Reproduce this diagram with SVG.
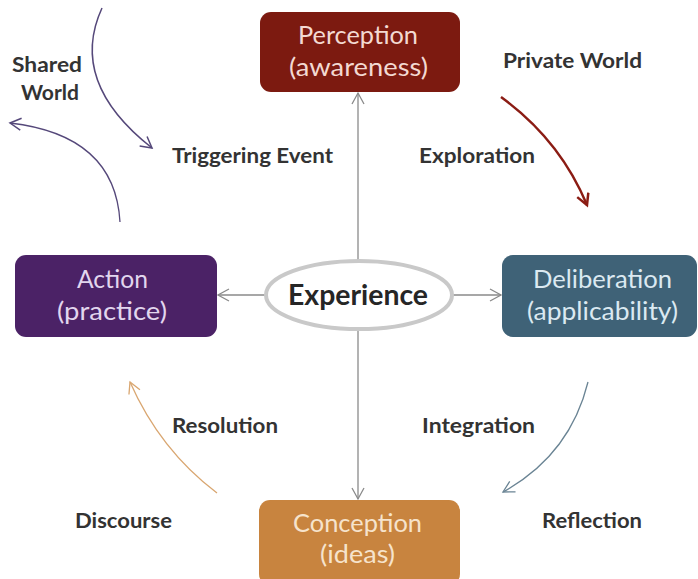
<svg xmlns="http://www.w3.org/2000/svg" width="698" height="579" viewBox="0 0 698 579">
<defs>
<style>
.lbl{font-family:Lato,"Open Sans","Liberation Sans",sans-serif;font-weight:bold;font-size:20px;fill:#333}
.bt{font-family:Lato,"Open Sans","Liberation Sans",sans-serif;font-size:25px}
.ax{stroke:#8a8a8a;stroke-width:1.3;fill:none}
</style>
<marker id="ag" markerUnits="userSpaceOnUse" markerWidth="16" markerHeight="16" refX="12" refY="7" orient="auto"><path d="M1,1 L12,7 L1,13" fill="none" stroke="#8a8a8a" stroke-width="1.3"/></marker>
<marker id="ap" markerUnits="userSpaceOnUse" markerWidth="16" markerHeight="16" refX="12" refY="7" orient="auto"><path d="M1,1 L12,7 L1,13" fill="none" stroke="#55487a" stroke-width="1.5"/></marker>
<marker id="ar" markerUnits="userSpaceOnUse" markerWidth="16" markerHeight="16" refX="12" refY="7" orient="auto"><path d="M1,1 L12,7 L1,13" fill="none" stroke="#8b1c14" stroke-width="2.5"/></marker>
<marker id="ab" markerUnits="userSpaceOnUse" markerWidth="16" markerHeight="16" refX="12" refY="7" orient="auto"><path d="M1,1 L12,7 L1,13" fill="none" stroke="#6a8494" stroke-width="1.3"/></marker>
<marker id="ao" markerUnits="userSpaceOnUse" markerWidth="16" markerHeight="16" refX="12" refY="7" orient="auto"><path d="M1,1 L12,7 L1,13" fill="none" stroke="#d9a670" stroke-width="1.3"/></marker>
</defs>
<rect width="698" height="579" fill="#fff"/>
<g id="connectors">
<line class="ax" x1="358" y1="260" x2="358" y2="93" marker-end="url(#ag)"/>
<line class="ax" x1="358" y1="330" x2="358" y2="499" marker-end="url(#ag)"/>
<line class="ax" x1="265" y1="295" x2="218" y2="295" marker-end="url(#ag)"/>
<line class="ax" x1="453" y1="295" x2="501" y2="295" marker-end="url(#ag)"/>
<path d="M102,8 Q68,82 152,148" fill="none" stroke="#55487a" stroke-width="1.5" marker-end="url(#ap)"/>
<path d="M120,222 Q115,135 10,123" fill="none" stroke="#55487a" stroke-width="1.3" marker-end="url(#ap)"/>
<path d="M501,97 Q560,140 587,205" fill="none" stroke="#8b1c14" stroke-width="2.5" marker-end="url(#ar)"/>
<path d="M588,382 Q570,455 503,492" fill="none" stroke="#6a8494" stroke-width="1.3" marker-end="url(#ab)"/>
<path d="M217,493 Q160,450 130,382" fill="none" stroke="#d9a670" stroke-width="1.3" marker-end="url(#ao)"/>
</g>
<g id="perception">
<rect x="260" y="12" width="200" height="80" rx="11" fill="#7c1a10"/>
<text class="bt" x="298" y="44" fill="#f3d9d2" textLength="120" lengthAdjust="spacingAndGlyphs">Perception</text>
<text class="bt" x="289" y="76" fill="#f3d9d2" textLength="139" lengthAdjust="spacingAndGlyphs">(awareness)</text>
</g>
<g id="action">
<rect x="15" y="255" width="202" height="82" rx="11" fill="#4b2266"/>
<text class="bt" x="77" y="288" fill="#e2d6ee" textLength="71" lengthAdjust="spacingAndGlyphs">Action</text>
<text class="bt" x="57" y="320" fill="#e2d6ee" textLength="110" lengthAdjust="spacingAndGlyphs">(practice)</text>
</g>
<g id="deliberation">
<rect x="502" y="255" width="195" height="82" rx="11" fill="#3f6277"/>
<text class="bt" x="533" y="288" fill="#dbe9f1" textLength="139" lengthAdjust="spacingAndGlyphs">Deliberation</text>
<text class="bt" x="527" y="320" fill="#dbe9f1" textLength="151" lengthAdjust="spacingAndGlyphs">(applicability)</text>
</g>
<g id="conception">
<rect x="259" y="500" width="201" height="85" rx="11" fill="#c8843f"/>
<text class="bt" x="293" y="532" fill="#f6e3cc" textLength="129" lengthAdjust="spacingAndGlyphs">Conception</text>
<text class="bt" x="320" y="563" fill="#f6e3cc" textLength="75" lengthAdjust="spacingAndGlyphs">(ideas)</text>
</g>
<g id="experience">
<ellipse cx="359" cy="295" rx="93" ry="34" fill="#fff" stroke="#c9c9c9" stroke-width="4"/>
<text x="288" y="305" font-family="Lato,'Open Sans','Liberation Sans',sans-serif" font-weight="bold" font-size="28" fill="#262626" textLength="140" lengthAdjust="spacingAndGlyphs">Experience</text>
</g>
<g id="labels">
<text class="lbl" x="12" y="72" textLength="70" lengthAdjust="spacingAndGlyphs">Shared</text>
<text class="lbl" x="21" y="100" textLength="58" lengthAdjust="spacingAndGlyphs">World</text>
<text class="lbl" x="172" y="163" textLength="161" lengthAdjust="spacingAndGlyphs">Triggering Event</text>
<text class="lbl" x="503" y="68" textLength="139" lengthAdjust="spacingAndGlyphs">Private World</text>
<text class="lbl" x="419" y="163" textLength="116" lengthAdjust="spacingAndGlyphs">Exploration</text>
<text class="lbl" x="172" y="433" textLength="106" lengthAdjust="spacingAndGlyphs">Resolution</text>
<text class="lbl" x="422" y="433" textLength="113" lengthAdjust="spacingAndGlyphs">Integration</text>
<text class="lbl" x="75" y="528" textLength="97" lengthAdjust="spacingAndGlyphs">Discourse</text>
<text class="lbl" x="542" y="528" textLength="100" lengthAdjust="spacingAndGlyphs">Reflection</text>
</g>
</svg>
